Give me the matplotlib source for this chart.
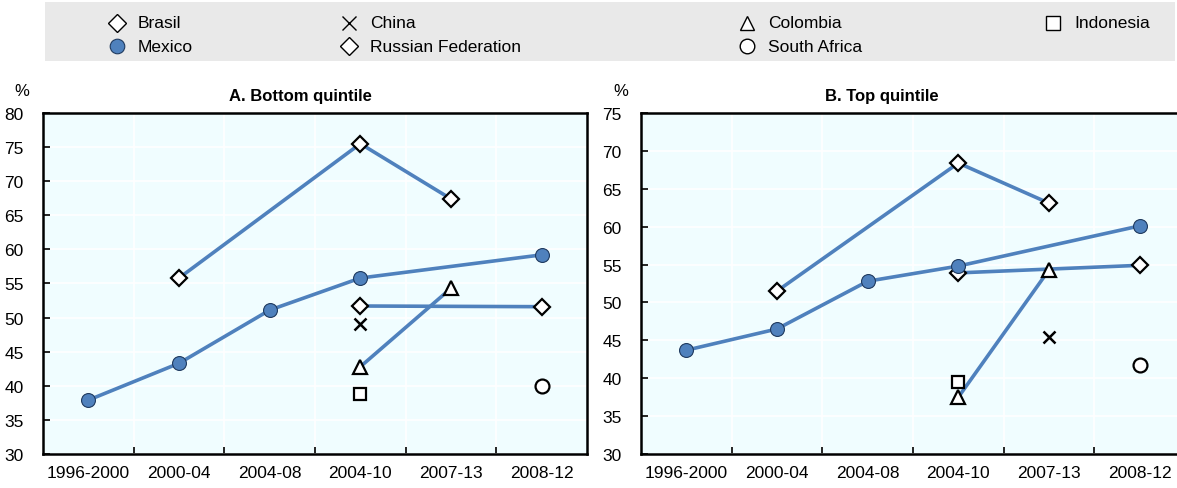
import numpy as np
import matplotlib
matplotlib.use("Agg")
import matplotlib.pyplot as plt
from matplotlib.lines import Line2D

plt.rcParams['font.family'] = ['Liberation Sans', 'DejaVu Sans']

# Periods on the x axis
periods = ["1996-2000", "2000-04", "2004-08", "2004-10", "2007-13", "2008-12"]
nan = np.nan

# A. Bottom quintile (%)
bottom_brasil = [nan, 55.8, nan, 75.5, 67.4, nan]
bottom_russia = [nan, nan, nan, 51.7, nan, 51.6]
bottom_mexico = [37.9, 43.3, 51.1, 55.8, nan, 59.2]
bottom_china = [nan, nan, nan, 49.1, nan, nan]
bottom_colombia = [nan, nan, nan, 42.8, 54.3, nan]
bottom_indonesia = [nan, nan, nan, 38.8, nan, nan]
bottom_safrica = [nan, nan, nan, nan, nan, 39.9]

# B. Top quintile (%)
top_brasil = [nan, 51.5, nan, 68.4, 63.1, nan]
top_russia = [nan, nan, nan, 53.9, nan, 54.9]
top_mexico = [43.7, 46.5, 52.8, 54.8, nan, 60.1]
top_china = [nan, nan, nan, nan, 45.4, nan]
top_colombia = [nan, nan, nan, 37.5, 54.3, nan]
top_indonesia = [nan, nan, nan, 39.5, nan, nan]
top_safrica = [nan, nan, nan, nan, nan, 41.8]

BLUE = "#4f81bd"
BG = "#f0fdff"

fig = plt.figure(figsize=(11.77, 4.89), dpi=100)
W, H = 1177, 489


def px_axes(left, top, right, bottom):
    return fig.add_axes([left / W, 1 - bottom / H, (right - left) / W, (bottom - top) / H])


styles = {
    "brasil": dict(marker="D", ms=8.5, mfc="white", mec="black", mew=1.6),
    "russia": dict(marker="D", ms=8.5, mfc="white", mec="black", mew=1.6),
    "mexico": dict(marker="o", ms=10, mfc=BLUE, mec="#1f3a5f", mew=0.8),
    "china": dict(marker="x", ms=9, mec="black", mew=1.8),
    "colombia": dict(marker="^", ms=10, mfc="white", mec="black", mew=1.6),
    "indonesia": dict(marker="s", ms=9, mfc="white", mec="black", mew=1.6),
    "safrica": dict(marker="o", ms=10, mfc="white", mec="black", mew=1.6),
}


def draw_series(ax, values, key, line=True, z=3):
    x = np.arange(len(periods))
    y = np.array(values, dtype=float)
    ok = ~np.isnan(y)
    if line and ok.sum() > 1:
        ax.plot(x[ok], y[ok], color=BLUE, lw=2.6, zorder=z, solid_capstyle="round")
    ax.plot(x[ok], y[ok], ls="none", zorder=z + 0.5, **styles[key])


def setup(ax, ylim, title, title_x, pct_x):
    ax.set_facecolor(BG)
    ax.set_xlim(-0.5, len(periods) - 0.5)
    ax.set_ylim(*ylim)
    ax.set_yticks(np.arange(ylim[0], ylim[1] + 1, 5))
    ax.set_xticks(np.arange(len(periods)))
    ax.set_xticklabels(periods)
    ax.set_xticks(np.arange(len(periods) - 1) + 0.5, minor=True)
    ax.tick_params(axis="x", which="major", length=0, labelsize=12.5, pad=8)
    ax.tick_params(axis="x", which="minor", length=5, width=1.2, direction="in")
    ax.tick_params(axis="y", length=5, width=1.2, direction="in", labelsize=12.5, pad=14)
    ax.grid(True, axis="y", color="white", lw=1.2, zorder=0)
    ax.grid(True, axis="x", which="minor", color="white", lw=1.2, zorder=0)
    ax.set_axisbelow(True)
    for s in ax.spines.values():
        s.set_color("black")
        s.set_linewidth(1.8)
    fig.text(title_x / W, 1 - 96 / H, title, fontsize=12, fontweight="bold",
             ha="center", va="center")
    fig.text(pct_x / W, 1 - 92 / H, "%", fontsize=12, ha="center", va="center")


axA = px_axes(43, 114, 587, 455)
setup(axA, (30, 80), "A. Bottom quintile", 300, 22)
draw_series(axA, bottom_brasil, "brasil")
draw_series(axA, bottom_russia, "russia")
draw_series(axA, bottom_colombia, "colombia")
draw_series(axA, bottom_mexico, "mexico", z=4)
draw_series(axA, bottom_china, "china", line=False)
draw_series(axA, bottom_indonesia, "indonesia", line=False)
draw_series(axA, bottom_safrica, "safrica", line=False)

axB = px_axes(641, 114, 1185, 455)
setup(axB, (30, 75), "B. Top quintile", 882, 621)
draw_series(axB, top_brasil, "brasil")
draw_series(axB, top_russia, "russia")
draw_series(axB, top_colombia, "colombia")
draw_series(axB, top_mexico, "mexico", z=4)
draw_series(axB, top_china, "china", line=False)
draw_series(axB, top_indonesia, "indonesia", line=False)
draw_series(axB, top_safrica, "safrica", line=False)

# Legend band across the top
leg_ax = px_axes(45, 3, 1175, 62)
leg_ax.set_facecolor("#e9e9e9")
leg_ax.set_xticks([])
leg_ax.set_yticks([])
for s in leg_ax.spines.values():
    s.set_visible(False)

legend_items = [
    ("Brasil", "brasil", 117, 24),
    ("Mexico", "mexico", 117, 47),
    ("China", "china", 349, 24),
    ("Russian Federation", "russia", 349, 47),
    ("Colombia", "colombia", 747, 24),
    ("South Africa", "safrica", 747, 47),
    ("Indonesia", "indonesia", 1053, 24),
]
for label, key, mx, my in legend_items:
    st = dict(styles[key])
    st["ms"] = st["ms"] * 1.05
    st["mew"] = min(st["mew"], 1.0)
    fig.add_artist(Line2D([mx / W], [1 - my / H], ls="none", transform=fig.transFigure, **st))
    fig.text((mx + 21) / W, 1 - my / H, label, fontsize=12.5, va="center", ha="left")

fig.savefig("out.png", dpi=100)
